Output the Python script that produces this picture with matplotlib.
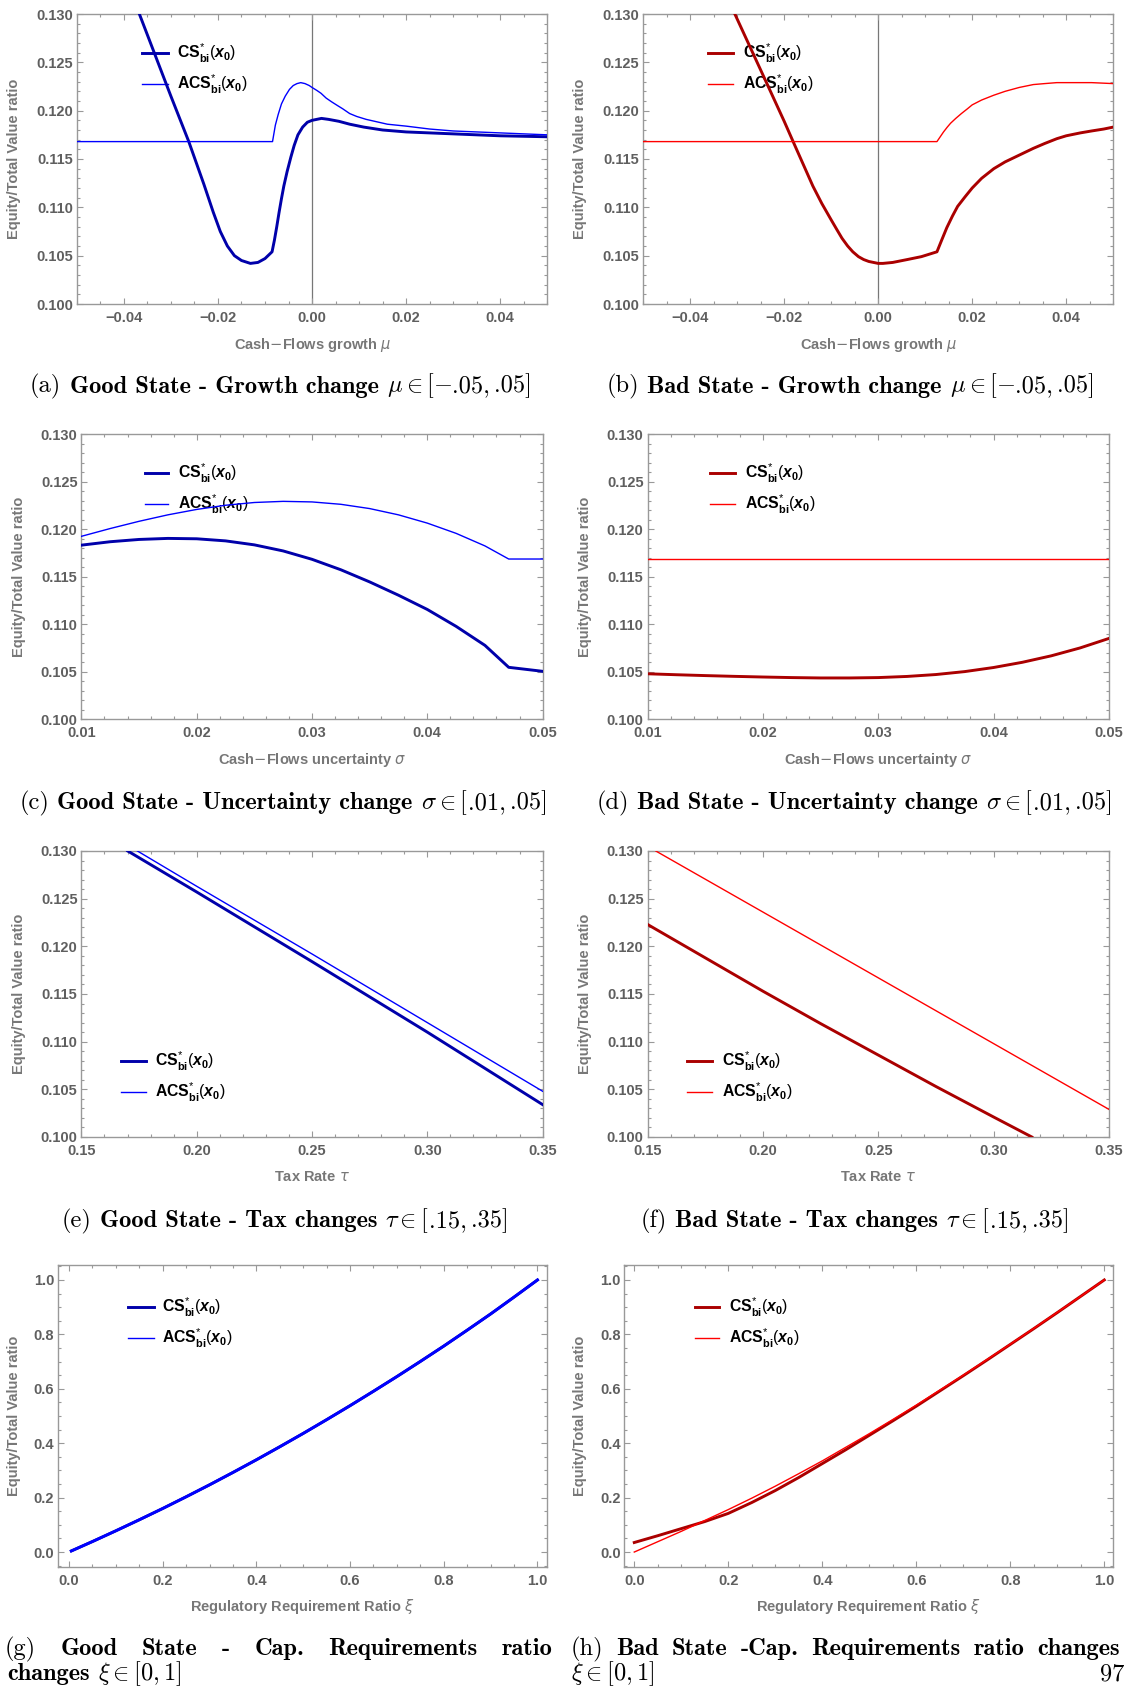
import matplotlib
matplotlib.use("Agg")
import matplotlib.pyplot as plt
from matplotlib.lines import Line2D
from matplotlib.transforms import Affine2D
from matplotlib.ticker import MultipleLocator, FuncFormatter
from matplotlib.offsetbox import TextArea, HPacker, DrawingArea, AnnotationBbox

# ---------------------------------------------------------------- data
# (a) good state, cash-flow growth mu
a_cs_x = [-0.0367, -0.0300, -0.0262, -0.0230, -0.0210, -0.0195, -0.0180, -0.0165,
          -0.0150, -0.0131, -0.0115, -0.0100, -0.0085, -0.0080, -0.0075, -0.0070,
          -0.0065, -0.0060, -0.0053, -0.0045, -0.0038, -0.0030, -0.0020, -0.0010,
          0.0000, 0.0010, 0.0020, 0.0035, 0.0057, 0.0080, 0.0110, 0.0150, 0.0200,
          0.0300, 0.0400, 0.0500]
a_cs_y = [0.1300, 0.1215, 0.1168, 0.1124, 0.1095, 0.1075, 0.1060, 0.1050,
          0.1045, 0.1042, 0.1043, 0.1047, 0.1054, 0.1066, 0.1080, 0.1095,
          0.1109, 0.1122, 0.1137, 0.1152, 0.1164, 0.1175, 0.1183, 0.1188,
          0.1190, 0.1191, 0.1192, 0.1191, 0.1189, 0.1186, 0.1183, 0.1180, 0.1178,
          0.1176, 0.1174, 0.1173]
a_acs_x = [-0.0500, -0.0084, -0.0078, -0.0072, -0.0065, -0.0057, -0.0048, -0.0040,
           -0.0032, -0.0024, -0.0015, -0.0006, 0.0000, 0.0010, 0.0019, 0.0030,
           0.0042, 0.0055, 0.0065, 0.0080, 0.0095, 0.0115, 0.0133, 0.0160, 0.0200,
           0.0250, 0.0300, 0.0350, 0.0400, 0.0500]
a_acs_y = [0.1168, 0.1168, 0.1185, 0.1196, 0.1207, 0.1215, 0.1222, 0.1226,
           0.1228, 0.1229, 0.1228, 0.1226, 0.1224, 0.1221, 0.1218, 0.1213,
           0.1209, 0.1205, 0.1202, 0.1197, 0.1194, 0.1191, 0.1189, 0.1186, 0.1184,
           0.1181, 0.1179, 0.1178, 0.1177, 0.1175]

# (b) bad state, cash-flow growth mu
b_cs_x = [-0.0305, -0.0250, -0.0200, -0.0181, -0.0160, -0.0139, -0.0120, -0.0100,
          -0.0088, -0.0077, -0.0065, -0.0054, -0.0042, -0.0031, -0.0020, 0.0000,
          0.0010, 0.0031, 0.0062, 0.0092, 0.0125, 0.0135, 0.0146, 0.0158, 0.0169,
          0.0185, 0.0200, 0.0220, 0.0246, 0.0270, 0.0300, 0.0330, 0.0354, 0.0380,
          0.0400, 0.0430, 0.0454, 0.0480, 0.0500]
b_cs_y = [0.1300, 0.1242, 0.1189, 0.1168, 0.1145, 0.1122, 0.1104, 0.1087,
          0.1077, 0.1068, 0.1060, 0.1054, 0.1049, 0.1046, 0.1044, 0.1042,
          0.1042, 0.1043, 0.1046, 0.1049, 0.1054, 0.1066, 0.1079, 0.1091, 0.1101,
          0.1111, 0.1120, 0.1130, 0.1140, 0.1147, 0.1154, 0.1161, 0.1166, 0.1171,
          0.1174, 0.1177, 0.1179, 0.1181, 0.1183]
b_acs_x = [-0.0500, 0.0125, 0.0132, 0.0139, 0.0147, 0.0154, 0.0165, 0.0177,
           0.0190, 0.0200, 0.0220, 0.0246, 0.0270, 0.0300, 0.0330, 0.0354,
           0.0380, 0.0400, 0.0454, 0.0500]
b_acs_y = [0.1168, 0.1168, 0.1173, 0.1178, 0.1183, 0.1187, 0.1192, 0.1197,
           0.1202, 0.1206, 0.1211, 0.1216, 0.1220, 0.1224, 0.1227, 0.1228,
           0.1229, 0.1229, 0.1229, 0.1228]

# (c) good state, cash-flow uncertainty sigma
c_x = [0.0100, 0.0125, 0.0150, 0.0175, 0.0200, 0.0225, 0.0250, 0.0275, 0.0300,
       0.0325, 0.0350, 0.0375, 0.0400, 0.0425, 0.0450, 0.04706, 0.0500]
c_cs_y = [0.11830, 0.11866, 0.11890, 0.11901, 0.11897, 0.11875, 0.11833, 0.11769,
          0.11681, 0.11571, 0.11443, 0.11303, 0.11153, 0.10975, 0.10775, 0.10544,
          0.10502]
c_acs_y = [0.11923, 0.12005, 0.12081, 0.12149, 0.12206, 0.12250, 0.12279, 0.12291,
           0.12285, 0.12260, 0.12215, 0.12149, 0.12062, 0.11954, 0.11822, 0.11684,
           0.11684]

# (d) bad state, cash-flow uncertainty sigma
d_x = [0.0100, 0.0125, 0.0150, 0.0175, 0.0200, 0.0225, 0.0250, 0.0275, 0.0300,
       0.0325, 0.0350, 0.0375, 0.0400, 0.0425, 0.0450, 0.0475, 0.0500]
d_cs_y = [0.10476, 0.10466, 0.10457, 0.10449, 0.10442, 0.10436, 0.10432, 0.10432,
          0.10436, 0.10448, 0.10468, 0.10499, 0.10542, 0.10597, 0.10665, 0.10748,
          0.10848]
d_acs_x = [0.0100, 0.0500]
d_acs_y = [0.11684, 0.11684]

# (e) good state, tax rate tau
e_cs_x = [0.1701, 0.2000, 0.2500, 0.3000, 0.3500]
e_cs_y = [0.1300, 0.1257, 0.1184, 0.1110, 0.1034]
e_acs_x = [0.1743, 0.2000, 0.2500, 0.3000, 0.3500]
e_acs_y = [0.1300, 0.1263, 0.1192, 0.1120, 0.1048]

# (f) bad state, tax rate tau
f_cs_x = [0.1500, 0.1750, 0.2000, 0.2250, 0.2500, 0.2750, 0.3000, 0.3166]
f_cs_y = [0.1223, 0.1188, 0.1153, 0.1119, 0.1086, 0.1053, 0.1021, 0.1000]
f_acs_x = [0.1536, 0.2000, 0.2500, 0.3000, 0.3500]
f_acs_y = [0.1300, 0.1236, 0.1167, 0.1098, 0.1029]

# (g) good state, regulatory requirement ratio xi
g_x = [0.005, 0.05, 0.10, 0.15, 0.20, 0.25, 0.30, 0.35, 0.40, 0.45, 0.50,
       0.55, 0.60, 0.65, 0.70, 0.75, 0.80, 0.85, 0.90, 0.95, 1.00]
g_cs_y = [0.004, 0.0385, 0.078, 0.1185, 0.160, 0.203, 0.247, 0.2925, 0.339, 0.387,
          0.436, 0.4865, 0.538, 0.591, 0.645, 0.7005, 0.757, 0.8155, 0.875, 0.937, 1.000]
g_acs_y = [0.004, 0.0385, 0.078, 0.1185, 0.160, 0.203, 0.247, 0.2925, 0.339, 0.387,
           0.436, 0.4865, 0.538, 0.591, 0.645, 0.7005, 0.757, 0.8155, 0.875, 0.937, 1.000]

# (h) bad state, regulatory requirement ratio xi
h_x = [0.00, 0.05, 0.10, 0.15, 0.20, 0.25, 0.30, 0.35, 0.40, 0.45, 0.50,
       0.55, 0.60, 0.65, 0.70, 0.75, 0.80, 0.85, 0.90, 0.95, 1.00]
h_cs_y = [0.035, 0.060, 0.086, 0.112, 0.142, 0.182, 0.226, 0.274, 0.325, 0.376, 0.429,
          0.482, 0.536, 0.592, 0.648, 0.705, 0.763, 0.821, 0.880, 0.940, 1.000]
h_acs_y = [0.000, 0.038, 0.076, 0.116, 0.156, 0.198, 0.242, 0.288, 0.335, 0.385, 0.435,
           0.487, 0.540, 0.595, 0.650, 0.707, 0.764, 0.822, 0.881, 0.940, 1.000]

cs_label = r"$\mathbf{CS}^{*}_{\mathbf{bi}}(x_{\mathbf{0}})$"
acs_label = r"$\mathbf{ACS}^{*}_{\mathbf{bi}}(x_{\mathbf{0}})$"
y_title = "Equity/Total Value ratio"

# ---------------------------------------------------------------- style
plt.rcParams["mathtext.fontset"] = "custom"
plt.rcParams["mathtext.rm"] = "Liberation Sans"
plt.rcParams["mathtext.bf"] = "Liberation Sans:bold"
plt.rcParams["mathtext.it"] = "Liberation Sans:italic:bold"
plt.rcParams["font.family"] = ["Liberation Sans", "DejaVu Sans"]

W, H = 1127, 1689
fig = plt.figure(figsize=(W / 100, H / 100), dpi=100)
fig.patch.set_facecolor("white")
# pixel coordinates measured from the top-left corner of the page
PX = Affine2D().scale(1 / W, -1 / H).translate(0, 1) + fig.transFigure

BLUE_DARK, BLUE = "#0000aa", "#0000ff"
RED_DARK, RED = "#aa0000", "#ff0000"
TICK_GRAY, LABEL_GRAY, FRAME_GRAY = "#5f5f5f", "#777777", "#999999"
TICK_SIZE = 10.5
CAP_SIZE = 17.6
WORD_SEP = 6.0
THIN_SEP = 3.0


def minus_fmt(decimals):
    def f(v, _):
        s = f"{v:.{decimals}f}"
        if float(s) == 0:
            s = s.lstrip("-")
        return s.replace("-", "\u2212")
    return FuncFormatter(f)


def make_axes(rect_px):
    l, r, t, b = rect_px
    return fig.add_axes([l / W, 1 - b / H, (r - l) / W, (b - t) / H])


def style_axes(ax, xlim, ylim, xmaj, xmin, ymaj, ymin, xdec, ydec):
    ax.set_xlim(*xlim)
    ax.set_ylim(*ylim)
    ax.xaxis.set_major_locator(MultipleLocator(xmaj))
    ax.xaxis.set_minor_locator(MultipleLocator(xmin))
    ax.yaxis.set_major_locator(MultipleLocator(ymaj))
    ax.yaxis.set_minor_locator(MultipleLocator(ymin))
    ax.xaxis.set_major_formatter(minus_fmt(xdec))
    ax.yaxis.set_major_formatter(minus_fmt(ydec))
    ax.tick_params(which="both", direction="in", top=True, right=True,
                   color=FRAME_GRAY, width=0.8)
    ax.tick_params(which="major", length=4.0)
    ax.tick_params(which="minor", length=2.2)
    ax.tick_params(axis="x", which="major", pad=5.0)
    ax.tick_params(axis="y", which="major", pad=2.8)
    for lab in ax.get_xticklabels() + ax.get_yticklabels():
        lab.set_fontweight("bold")
        lab.set_fontsize(TICK_SIZE)
        lab.set_color(TICK_GRAY)
    for sp in ax.spines.values():
        sp.set_color(FRAME_GRAY)
        sp.set_linewidth(1.0)


def axis_titles(ax, xtitle, xlab_y, ylab_x, rect_px):
    l, r, t, b = rect_px
    ax.set_xlabel(xtitle, fontsize=TICK_SIZE, fontweight="bold", color=LABEL_GRAY,
                  va="center", math_fontfamily="dejavusans")
    ax.set_ylabel(y_title, fontsize=TICK_SIZE, fontweight="bold", color=LABEL_GRAY,
                  va="center")
    ax.xaxis.set_label_coords((l + r) / 2, xlab_y, transform=PX)
    ax.yaxis.set_label_coords(ylab_x, (t + b) / 2, transform=PX)


def legend_keys(ax, spec, colors, widths):
    x0, x1, xt, y1, y2 = spec
    for y, col, lw, lab in zip((y1, y2), colors, widths, (cs_label, acs_label)):
        ax.add_line(Line2D([x0, x1], [y, y], color=col, lw=lw, transform=PX,
                           clip_on=False, zorder=1.5))
        ax.text(xt, y + 5.5, lab, transform=PX, fontsize=11.3, color="black",
                va="baseline", ha="left", zorder=1.5, clip_on=False,
                math_fontfamily="custom")


def text_box(txt, kind):
    props = dict(fontsize=CAP_SIZE, color="black")
    if kind == "rm":
        props["fontfamily"] = "cmr10"
    elif kind == "bf":
        props["fontfamily"] = "cmb10"
    else:
        props["math_fontfamily"] = "cm"
    return TextArea(txt, textprops=props)


def group_box(items):
    """Pieces of one word: packed tightly, 'thin' inserts a small gap."""
    kids = []
    for txt, kind in items:
        if kind == "thin":
            kids.append(DrawingArea(THIN_SEP, 0))
        else:
            kids.append(text_box(txt, kind))
    if len(kids) == 1:
        return kids[0]
    return HPacker(children=kids, align="baseline", pad=0, sep=0)


def caption(groups, xy, align=(0.5, 0.5), width=None):
    boxes = [group_box(g) for g in groups]
    if width is None:
        pack = HPacker(children=boxes, align="baseline", pad=0, sep=WORD_SEP)
    else:
        pack = HPacker(children=boxes, align="baseline", pad=0, sep=0,
                       mode="expand", width=width)
    fig.add_artist(AnnotationBbox(pack, xy, xycoords=PX, box_alignment=align,
                                  frameon=False, pad=0))


def interval(sym, lo, hi):
    """'sym in [lo, hi]' with LaTeX-like decimal spacing."""
    head = "$" + sym + r" \in [" + ("-" if lo.startswith("-") else "") + "$"
    return [(head, "m"), (lo.lstrip("-") + ",", "rm"), ("", "thin"), (hi + "]", "rm")]


# ---------------------------------------------------------------- panels
panels = [
    dict(rect=(76.8, 547.3, 14, 304), cs=(a_cs_x, a_cs_y), acs=(a_acs_x, a_acs_y),
         xlim=(-0.05, 0.05), ylim=(0.100, 0.130), ticks=(0.02, 0.005, 0.005, 0.001, 2, 3),
         xtitle=r"Cash$-$Flows growth $\mu$", xlab_y=345, ylab_x=14.3,
         legend=(142, 168, 177, 53.3, 84.3), good=True, zero_line=True, acs_lw=1.0,
         cap=([[("(a)", "rm")], [("Good State - Growth change", "bf")],
               interval(r"\mu", "-.05", ".05")], (532, 386))),
    dict(rect=(643.2, 1113.2, 14, 304), cs=(b_cs_x, b_cs_y), acs=(b_acs_x, b_acs_y),
         xlim=(-0.05, 0.05), ylim=(0.100, 0.130), ticks=(0.02, 0.005, 0.005, 0.001, 2, 3),
         xtitle=r"Cash$-$Flows growth $\mu$", xlab_y=345, ylab_x=579.9,
         legend=(708.3, 732.8, 742.6, 53.3, 84.3), good=False, zero_line=True, acs_lw=1.0,
         cap=([[("(b)", "rm")], [("Bad State - Growth change", "bf")],
               interval(r"\mu", "-.05", ".05")], (1095, 386))),
    dict(rect=(81.4, 542.6, 434, 719), cs=(c_x, c_cs_y), acs=(c_x, c_acs_y),
         xlim=(0.01, 0.05), ylim=(0.100, 0.130), ticks=(0.01, 0.002, 0.005, 0.001, 2, 3),
         xtitle=r"Cash$-$Flows uncertainty $\sigma$", xlab_y=760, ylab_x=18.6,
         legend=(144.6, 167.8, 178.5, 472.7, 504), good=True, zero_line=False, acs_lw=1.0,
         cap=([[("(c)", "rm")], [("Good State - Uncertainty change", "bf")],
               interval(r"\sigma", ".01", ".05")], (548, 803))),
    dict(rect=(647.5, 1108.9, 434, 719), cs=(d_x, d_cs_y), acs=(d_acs_x, d_acs_y),
         xlim=(0.01, 0.05), ylim=(0.100, 0.130), ticks=(0.01, 0.002, 0.005, 0.001, 2, 3),
         xtitle=r"Cash$-$Flows uncertainty $\sigma$", xlab_y=760, ylab_x=584.6,
         legend=(710, 735.4, 745.1, 472.7, 504), good=False, zero_line=False, acs_lw=1.0,
         cap=([[("(d)", "rm")], [("Bad State - Uncertainty change", "bf")],
               interval(r"\sigma", ".01", ".05")], (1113, 803))),
    dict(rect=(81.4, 542.6, 851, 1137), cs=(e_cs_x, e_cs_y), acs=(e_acs_x, e_acs_y),
         xlim=(0.15, 0.35), ylim=(0.100, 0.130), ticks=(0.05, 0.01, 0.005, 0.001, 2, 3),
         xtitle=r"Tax Rate $\tau$", xlab_y=1176.7, ylab_x=18.6,
         legend=(121.4, 145.7, 155.3, 1060.7, 1092.3), good=True, zero_line=False, acs_lw=1.0,
         cap=([[("(e)", "rm")], [("Good State - Tax changes", "bf")],
               interval(r"\tau", ".15", ".35")], (509, 1221))),
    dict(rect=(647.5, 1108.9, 851, 1137), cs=(f_cs_x, f_cs_y), acs=(f_acs_x, f_acs_y),
         xlim=(0.15, 0.35), ylim=(0.100, 0.130), ticks=(0.05, 0.01, 0.005, 0.001, 2, 3),
         xtitle=r"Tax Rate $\tau$", xlab_y=1176.7, ylab_x=584.6,
         legend=(687.3, 711.9, 721.6, 1060.7, 1092.3), good=False, zero_line=False, acs_lw=1.0,
         cap=([[("(f)", "rm")], [("Bad State - Tax changes", "bf")],
               interval(r"\tau", ".15", ".35")], (1070, 1221))),
    dict(rect=(58.2, 547.3, 1265, 1567), cs=(g_x, g_cs_y), acs=(g_x, g_acs_y),
         xlim=(-0.023, 1.021), ylim=(-0.055, 1.055), ticks=(0.2, 0.05, 0.2, 0.05, 1, 1),
         xtitle=r"Regulatory Requirement Ratio $\xi$", xlab_y=1606.7, ylab_x=14.3,
         legend=(127.8, 153.5, 162.4, 1307.3, 1338.3), good=True, zero_line=False, acs_lw=2.0,
         cap=None),
    dict(rect=(624.4, 1113.2, 1265, 1567), cs=(h_x, h_cs_y), acs=(h_x, h_acs_y),
         xlim=(-0.021, 1.019), ylim=(-0.055, 1.055), ticks=(0.2, 0.05, 0.2, 0.05, 1, 1),
         xtitle=r"Regulatory Requirement Ratio $\xi$", xlab_y=1606.7, ylab_x=579.9,
         legend=(694.5, 719.1, 728.9, 1307.3, 1338.3), good=False, zero_line=False, acs_lw=1.0,
         cap=None),
]

for p in panels:
    ax = make_axes(p["rect"])
    dark, light = (BLUE_DARK, BLUE) if p["good"] else (RED_DARK, RED)
    if p["zero_line"]:
        ax.axvline(0.0, color="#777777", lw=0.9, zorder=1)
    ax.plot(*p["cs"], color=dark, lw=2.1, zorder=3, solid_joinstyle="round")
    ax.plot(*p["acs"], color=light, lw=p["acs_lw"], zorder=4, solid_joinstyle="round")
    xmaj, xmin, ymaj, ymin, xdec, ydec = p["ticks"]
    style_axes(ax, p["xlim"], p["ylim"], xmaj, xmin, ymaj, ymin, xdec, ydec)
    axis_titles(ax, p["xtitle"], p["xlab_y"], p["ylab_x"], p["rect"])
    legend_keys(ax, p["legend"], (dark, light), (2.1, 1.0))
    if p["cap"] is not None:
        groups, right_xy = p["cap"]
        caption(groups, right_xy, align=(1.0, 0.5))

# two-line captions of the bottom row
caption([[("(g)", "rm")], [("Good", "bf")], [("State", "bf")], [("-", "bf")],
         [("Cap.", "bf")], [("Requirements", "bf")], [("ratio", "bf")]],
        (5, 1649), align=(0, 0.5), width=548)
caption([[("changes", "bf")], [(r"$\xi \in [0, 1]$", "m")]], (7, 1674), align=(0, 0.5))
caption([[("(h)", "rm")], [("Bad", "bf")], [("State", "bf")], [("-Cap.", "bf")],
         [("Requirements", "bf")], [("ratio", "bf")], [("changes", "bf")]],
        (571, 1649), align=(0, 0.5), width=549)
caption([[(r"$\xi \in [0, 1]$", "m")]], (571, 1674), align=(0, 0.5))
caption([[("97", "rm")]], (1124, 1674), align=(1.0, 0.5))

fig.savefig("out.png", dpi=100, facecolor="white")
